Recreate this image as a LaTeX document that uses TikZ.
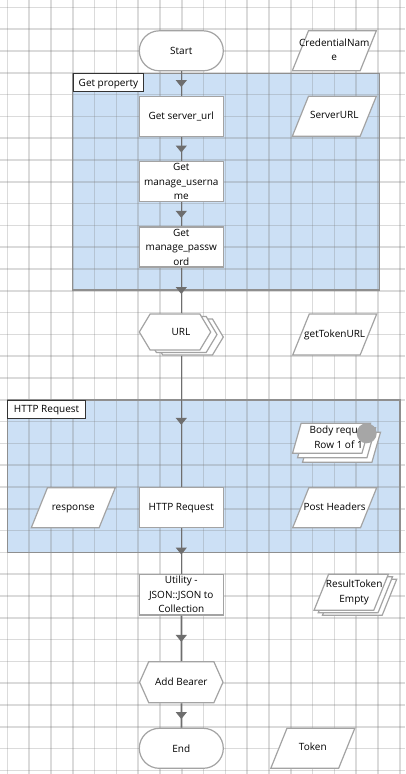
\documentclass[tikz,border=0pt]{standalone}
\usepackage{fontspec}
\setmainfont{Open Sans}
\usetikzlibrary{arrows.meta,calc,shapes.geometric,shapes.symbols,shadows,decorations.markings}
\definecolor{gridgray}{HTML}{7A7A7A}
\definecolor{linegray}{HTML}{6E6E6E}
\definecolor{edgegray}{HTML}{A3A3A3}
\definecolor{groupblue}{HTML}{CCE0F5}
\definecolor{groupedge}{HTML}{8F8F8F}
\definecolor{dotgray}{HTML}{A6A6A6}
\newcommand{\olap}[1]{\makebox[0pt]{#1}}
\newcommand{\twol}[2]{\makebox[0pt]{\begin{tabular}{@{}c@{}}#1\\#2\end{tabular}}}

\begin{document}
\begin{tikzpicture}[x=1pt,y=-1pt,font=\fontsize{10}{14.5}\selectfont,
 term/.style={draw=edgegray,line width=1.2pt,fill=white,rounded corners=20pt,minimum width=84pt,minimum height=40pt,align=center,inner sep=0pt},
 task/.style={draw=edgegray,line width=1.2pt,fill=white,minimum width=84pt,minimum height=40pt,align=center,inner sep=0pt},
 datain/.style={trapezium,trapezium left angle=68,trapezium right angle=112,trapezium stretches body,draw=edgegray,line width=1.2pt,fill=white,minimum width=84pt,text height=7pt,text depth=2pt,inner xsep=0pt,inner ysep=15.5pt},
 hexa/.style={signal,signal to=west and east,draw=edgegray,line width=1.2pt,fill=white,align=center,inner sep=0pt},
 group/.style={draw=groupedge,line width=1.2pt},
 grouplab/.style={draw=black!80,line width=0.9pt,fill=white,anchor=north west,inner xsep=2pt,inner ysep=0pt,minimum height=17.7pt,text depth=0pt},
 flow/.style={draw=linegray,line width=1.4pt,postaction={decorate},
   decoration={markings,mark=at position 0.5 with {\arrow[linegray,xshift=3.5pt]{Triangle[width=11pt,length=7pt]}}}}]
\useasboundingbox (0,0) rectangle (405,774);
\fill[white] (0,0) rectangle (405,774);
% containers
\fill[groupblue] (72.7,73.3) rectangle (379.3,290);
\fill[groupblue] (7.3,400) rectangle (400,552.3);
% grid
\foreach \k in {0,...,18}
  \draw[gridgray,opacity=0.27,line width=1.6pt] ({7.3+21.8*\k},0) -- ({7.3+21.8*\k},774);
\foreach \k in {0,...,35}
  \draw[gridgray,opacity=0.27,line width=1.6pt] (0,{7.3+21.8*\k}) -- (405,{7.3+21.8*\k});
\draw[group] (72.7,73.3) rectangle (379.3,290);
\draw[group] (7.3,400) rectangle (400,552.3);
\node[grouplab,minimum width=70.6pt] (getproplab) at (72.7,73.3) {Get property};
\node[grouplab,minimum width=77.7pt] (httplab) at (7.3,400) {HTTP Request};
% main column
\node[term] (start) at (181.3,50.8) {Start};
\node[task] (geturl) at (181.3,116.3) {Get server\_url};
\node[task] (getuser) at (181.3,181.7) {Get\\manage\_userna\\me};
\node[task] (getpass) at (181.3,247) {Get\\manage\_passw\\ord};
\node[hexa,minimum width=71.4pt,minimum height=36pt,signal pointer angle=118,
  double copy shadow={shadow xshift=6.3pt,shadow yshift=-2.5pt,draw=edgegray,fill=white}] (url) at (175,332) {\olap{\hspace*{12pt}URL}};
\node[task] (http) at (181.3,507.7) {HTTP Request};
\node[task,minimum height=40.7pt] (util) at (181.3,594.7) {Utility -\\JSON::JSON to\\Collection};
\node[hexa,minimum width=83.4pt,minimum height=41pt,signal pointer angle=132] (bearer) at (181.3,682.2) {Add Bearer};
\node[term] (end) at (181.3,748.3) {End};
% variables
\node[datain] (cred) at (334.3,50.8) {\twol{CredentialNam}{e}};
\node[datain] (srvurl) at (334.3,116.3) {\olap{ServerURL}};
\node[datain,inner ysep=16pt] (tokurl) at (334.7,334.5) {\olap{getTokenURL}};
\node[datain,minimum width=78pt,inner ysep=10.5pt,trapezium left angle=74,trapezium right angle=106,
  double copy shadow={shadow xshift=5pt,shadow yshift=-4.5pt,draw=edgegray,fill=white}] (body) at (331.5,438.3) {\twol{\hspace*{10pt}Body reque}{\hspace*{14pt}Row 1 of 1}};
\node[circle,fill=dotgray,minimum size=20pt,inner sep=0pt] (bodydot) at (366.7,433.3) {};
\node[datain] (resp) at (73.3,507.7) {\olap{response}};
\node[datain] (posth) at (334.7,507.7) {\olap{Post Headers}};
\node[datain,minimum width=74.3pt,inner ysep=13.5pt,
  double copy shadow={shadow xshift=4.2pt,shadow yshift=-2.5pt,draw=edgegray,fill=white}] (restok) at (351.2,592.2) {\twol{\hspace*{6pt}ResultToken}{\hspace*{6pt}Empty}};
\node[datain] (token) at (312.8,748.3) {\olap{Token}};
% connectors
\draw[flow] (start) -- (geturl);
\draw[flow] (geturl) -- (getuser);
\draw[flow] (getuser) -- (getpass);
\draw[flow] (getpass.south) -- (getpass.south |- url.north);
\draw[flow] ($(getpass.south |- url.south)+(0,5)$) -- (http.north);
\draw[flow] (http) -- (util);
\draw[flow] (util) -- (bearer);
\draw[flow] (bearer) -- (end);
\end{tikzpicture}
\end{document}
